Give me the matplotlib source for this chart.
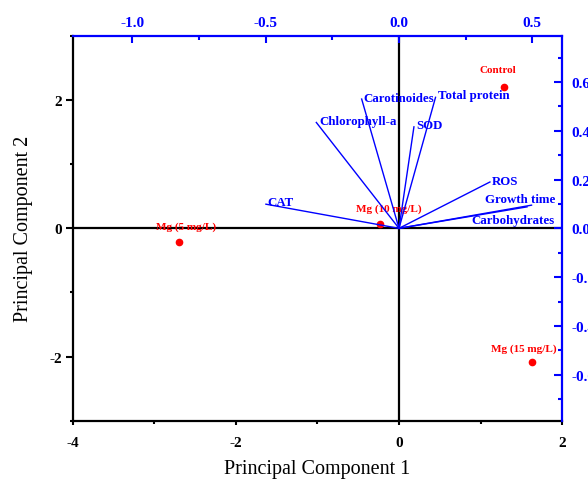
import matplotlib
matplotlib.use("Agg")
import matplotlib.pyplot as plt
from matplotlib.ticker import MultipleLocator

plt.rcParams['font.family'] = 'Liberation Serif'
plt.rcParams['axes.unicode_minus'] = False

# sample scores (bottom / left axes)
samples = ["Control", "Mg (5 mg/L)", "Mg (10 mg/L)", "Mg (15 mg/L)"]
score_x = [1.29, -2.70, -0.23, 1.63]
score_y = [2.21, -0.21, 0.07, -2.08]

# variable loadings (top / right axes)
variables = ["CAT", "Chlorophyll-a", "Carotinoides", "Total protein",
             "SOD", "ROS", "Growth time", "Carbohydrates"]
load_x = [-0.499, -0.310, -0.140, 0.137, 0.056, 0.341, 0.497, 0.48]
load_y = [0.099, 0.434, 0.530, 0.537, 0.416, 0.190, 0.095, 0.088]

# label offsets in points (dx, dy, ha)
var_offsets = {
    "CAT": (1, 1.5, "left"),
    "Chlorophyll-a": (2, 1, "left"),
    "Carotinoides": (1.5, 1, "left"),
    "Total protein": (2, 2, "left"),
    "SOD": (1.5, 1.5, "left"),
    "ROS": (1.5, 1, "left"),
    "Growth time": (-8, 4.7, "center"),
    "Carbohydrates": (-10, -9.5, "center"),
}
sample_offsets = {
    "Control": (-4.5, 12),
    "Mg (5 mg/L)": (5, 11.5),
    "Mg (10 mg/L)": (6, 11.5),
    "Mg (15 mg/L)": (-6, 10),
}

fig = plt.figure(figsize=(5.88, 4.81), dpi=100)
rect = [0.1241, 0.1233, 0.8317, 0.7998]
ax = fig.add_axes(rect)
ax2 = fig.add_axes(rect)
ax2.patch.set_visible(False)

ax.set_xlim(-4, 2)
ax.set_ylim(-3, 3)
ax.axhline(0, color='black', lw=1.6, zorder=1)
ax.axvline(0, color='black', lw=1.6, zorder=1)

ax.xaxis.set_major_locator(MultipleLocator(2))
ax.xaxis.set_minor_locator(MultipleLocator(1))
ax.yaxis.set_major_locator(MultipleLocator(2))
ax.yaxis.set_minor_locator(MultipleLocator(1))
ax.tick_params(axis='x', which='major', direction='out', length=3, width=1.5,
               labelsize=11, pad=8)
ax.tick_params(axis='x', which='minor', direction='out', length=2.5, width=1.5)
ax.tick_params(axis='y', which='major', direction='out', length=5, width=1.5,
               labelsize=11, pad=3)
ax.tick_params(axis='y', which='minor', direction='out', length=2.5, width=1.5)
for lab in ax.get_xticklabels() + ax.get_yticklabels():
    lab.set_fontweight('bold')
for s in ['left', 'bottom']:
    ax.spines[s].set_linewidth(1.6)
for s in ['top', 'right']:
    ax.spines[s].set_visible(False)

ax.set_xlabel("Principal Component 1", fontsize=14.5, labelpad=7)
ax.set_ylabel("Principal Component 2", fontsize=14.5, labelpad=12)

ax.plot(score_x, score_y, 'o', color='red', ms=4.5, zorder=5)
for name, x, y in zip(samples, score_x, score_y):
    dx, dy = sample_offsets[name]
    ax.annotate(name, (x, y), xytext=(dx, dy), textcoords='offset points',
                ha='center', va='center', color='red', fontsize=8,
                fontweight='bold')

# secondary axes for loadings
ax2.set_xlim(-4 / 3.272, 2 / 3.272)
ax2.set_ylim(-3 / 3.805, 3 / 3.805)
ax2.xaxis.tick_top()
ax2.yaxis.tick_right()
ax2.xaxis.set_major_locator(MultipleLocator(0.5))
ax2.xaxis.set_minor_locator(MultipleLocator(0.25))
ax2.yaxis.set_major_locator(MultipleLocator(0.2))
ax2.yaxis.set_minor_locator(MultipleLocator(0.1))
ax2.tick_params(axis='x', which='major', direction='in', length=5, width=1.5,
                colors='blue', labelsize=11, pad=5)
ax2.tick_params(axis='y', which='major', direction='in', length=6, width=1.5,
                colors='blue', labelsize=11, pad=7)
ax2.tick_params(which='minor', direction='in', length=3, width=1.5,
                colors='blue')
ax2.xaxis.set_major_formatter(plt.FuncFormatter(lambda v, p: f"{v:.1f}"))
ax2.yaxis.set_major_formatter(plt.FuncFormatter(lambda v, p: f"{v:.1f}"))
for lab in ax2.get_xticklabels() + ax2.get_yticklabels():
    lab.set_fontweight('bold')
for s in ['left', 'bottom']:
    ax2.spines[s].set_visible(False)
for s in ['top', 'right']:
    ax2.spines[s].set_color('blue')
    ax2.spines[s].set_linewidth(1.6)

for name, x, y in zip(variables, load_x, load_y):
    ax2.plot([0, x], [0, y], color='blue', lw=1)
    dx, dy, ha = var_offsets[name]
    ax2.annotate(name, (x, y), xytext=(dx, dy), textcoords='offset points',
                 ha=ha, va='center', color='blue', fontsize=9.3,
                 fontweight='bold')

fig.savefig("out.png", dpi=100)
